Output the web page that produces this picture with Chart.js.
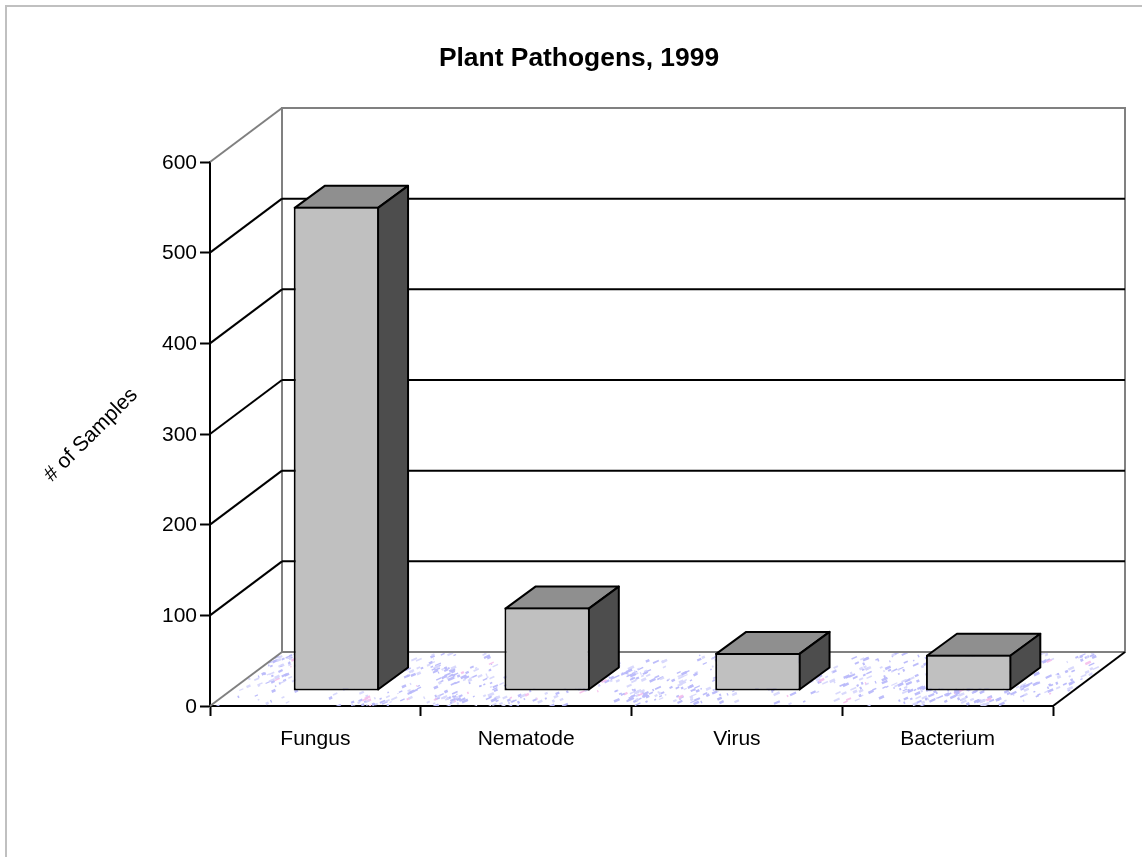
<!DOCTYPE html>
<html><head><meta charset="utf-8">
<style>
html,body{margin:0;padding:0;background:#fff;}
#wrap{position:absolute;left:0;top:0;width:1142px;height:857px;}
</style>
<script src="https://cdn.jsdelivr.net/npm/chart.js@4"></script>
</head><body>
<div id="wrap"><canvas id="c" width="1142" height="857"></canvas></div>
<script>
const categories = ["Fungus","Nematode","Virus","Bacterium"];
const samples = [534, 92, 42, 40];
const yTicks = [0,100,200,300,400,500,600];
const titleText = "Plant Pathogens, 1999";
const yAxisTitle = "# of Samples";

const DEPTH_X = 72, DEPTH_Y = -54;      // wall depth
const BAR_OFF_X = 21, BAR_OFF_Y = -15;  // bar front plane
const BAR_D_X = 30, BAR_D_Y = -22;      // bar depth
const FONT = '"Liberation Sans", Arial, sans-serif';

function line(ctx,x1,y1,x2,y2,color,w){
  ctx.strokeStyle=color;ctx.lineWidth=w;ctx.beginPath();ctx.moveTo(x1,y1);ctx.lineTo(x2,y2);ctx.stroke();
}
function poly(ctx,pts,fill,stroke,w){
  ctx.beginPath();pts.forEach((p,i)=>i?ctx.lineTo(p[0],p[1]):ctx.moveTo(p[0],p[1]));ctx.closePath();
  if(fill){ctx.fillStyle=fill;ctx.fill();}
  if(stroke){ctx.strokeStyle=stroke;ctx.lineWidth=w;ctx.lineJoin='round';ctx.stroke();}
}

const frame3d = {
  id:'frame3d',
  beforeDatasetsDraw(chart){
    const {ctx,scales:{x,y}}=chart;
    const L=x.left,R=x.right,B=y.getPixelForValue(0),T=y.getPixelForValue(600);
    ctx.save();
    // page border (top and left only)
    line(ctx,5,6,1142,6,'#c0c0c0',2);
    line(ctx,6,5,6,857,'#c0c0c0',2);
    // floor with speckle texture
    ctx.save();
    ctx.beginPath();ctx.moveTo(L,B);ctx.lineTo(L+DEPTH_X,B+DEPTH_Y);ctx.lineTo(R+DEPTH_X,B+DEPTH_Y);ctx.lineTo(R,B);ctx.closePath();ctx.clip();
    let s=1999;const rnd=()=>{s=(s*16807)%2147483647;return s/2147483647;};
    for(let c=0;c<190;c++){
      const cy=B+DEPTH_Y+rnd()*(-DEPTH_Y);
      const cx=L+rnd()*(R+DEPTH_X-L);
      const n=3+Math.floor(rnd()*8);
      for(let i=0;i<n;i++){
        const px=cx+(rnd()-0.5)*30, py=cy+(rnd()-0.5)*14;
        const len=1+rnd()*5;
        const pink=rnd()<0.05;
        ctx.strokeStyle=pink?'rgba(245,190,235,0.9)':(rnd()<0.6?'rgba(185,185,250,0.95)':'rgba(215,215,252,0.95)');
        ctx.lineWidth=1.2+rnd()*1.6;
        ctx.beginPath();ctx.moveTo(px,py);ctx.lineTo(px+len,py-len*0.45);ctx.stroke();
      }
    }
    ctx.restore();
    // back wall and left wall outlines
    const gray='#808080';
    ctx.lineCap='square';
    line(ctx,L+DEPTH_X,B+DEPTH_Y,L+DEPTH_X,T+DEPTH_Y,gray,2);
    line(ctx,L+DEPTH_X,T+DEPTH_Y,R+DEPTH_X,T+DEPTH_Y,gray,2);
    line(ctx,R+DEPTH_X,T+DEPTH_Y,R+DEPTH_X,B+DEPTH_Y,gray,2);
    line(ctx,L+DEPTH_X,B+DEPTH_Y,R+DEPTH_X,B+DEPTH_Y,gray,2);
    ctx.lineCap='butt';
    line(ctx,L,T,L+DEPTH_X,T+DEPTH_Y,gray,2);
    line(ctx,L,B,L+DEPTH_X,B+DEPTH_Y,gray,2);
    // gridlines
    yTicks.forEach(v=>{
      if(v===0||v===600)return;
      const py=y.getPixelForValue(v);
      line(ctx,L,py,L+DEPTH_X,py+DEPTH_Y,'#000',2);
      line(ctx,L+DEPTH_X,py+DEPTH_Y,R+DEPTH_X,py+DEPTH_Y,'#000',2);
    });
    // front-right floor edge
    line(ctx,R,B,R+DEPTH_X,B+DEPTH_Y,'#000',2);
    // 3D bar side and top faces
    const meta=chart.getDatasetMeta(0);
    meta.data.forEach(b=>{
      const lft=b.x-b.width/2+BAR_OFF_X, rgt=b.x+b.width/2+BAR_OFF_X;
      const top=b.y+BAR_OFF_Y, base=b.base+BAR_OFF_Y;
      poly(ctx,[[lft+1,top+1],[lft+1+BAR_D_X,top+1+BAR_D_Y],[rgt-1+BAR_D_X,top+1+BAR_D_Y],[rgt-1,top+1]],'#8f8f8f','#000',2);
      poly(ctx,[[rgt-1,top+1],[rgt-1+BAR_D_X,top+1+BAR_D_Y],[rgt-1+BAR_D_X,base-1+BAR_D_Y],[rgt-1,base-1]],'#4d4d4d','#000',2);
    });
    ctx.restore();
    // front face drawn by Chart.js, shifted onto the bar plane
    ctx.save();
    ctx.translate(BAR_OFF_X,BAR_OFF_Y);
  },
  afterDatasetsDraw(chart){
    chart.ctx.restore();
  },
  afterDraw(chart){
    const ctx=chart.ctx;
    // rotated axis title
    ctx.save();
    ctx.translate(91,435);ctx.rotate(-Math.PI/4);
    ctx.fillStyle='#000';ctx.font='21px '+FONT;ctx.textAlign='center';ctx.textBaseline='middle';
    ctx.fillText(yAxisTitle,0,0);
    ctx.restore();
    ctx.save();ctx.fillStyle='#000';ctx.font='bold 26.4px '+FONT;ctx.textAlign='center';ctx.textBaseline='middle';
    ctx.fillText(titleText,579,59);ctx.restore();
  }
};

new Chart(document.getElementById('c'),{
  type:'bar',
  data:{labels:categories,datasets:[{data:samples,backgroundColor:'#c0c0c0',borderColor:'#000',borderWidth:2,borderSkipped:false,barPercentage:0.405,categoryPercentage:1}]},
  options:{
    responsive:false,animation:false,
    layout:{padding:{left:0,top:162,right:89,bottom:0}},
    plugins:{legend:{display:false},tooltip:{enabled:false},title:{display:false}},
    scales:{
      x:{
        position:'bottom',
        afterFit(a){a.height=151;},
        grid:{display:true,drawOnChartArea:false,drawTicks:true,tickLength:10,tickWidth:2,color:'#000',offset:true},
        border:{color:'#000',width:2},
        ticks:{color:'#000',font:{family:FONT,size:21},padding:11,maxRotation:0}
      },
      y:{
        min:0,max:600,
        afterFit(a){a.width=210;},
        grid:{display:true,drawOnChartArea:false,drawTicks:true,tickLength:10,tickWidth:2,color:'#000'},
        border:{color:'#000',width:2},
        afterBuildTicks(a){a.ticks=yTicks.map(v=>({value:v}));},
        ticks:{color:'#000',font:{family:FONT,size:21},padding:3,labelOffset:1}
      }
    }
  },
  plugins:[frame3d]
});
</script>
</body></html>
